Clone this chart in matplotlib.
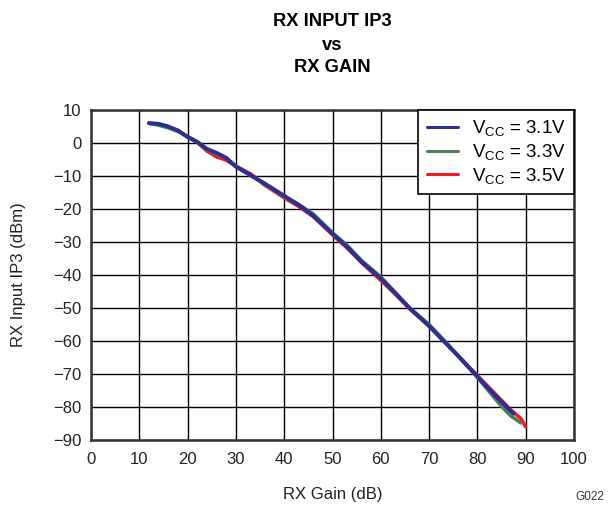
import matplotlib
matplotlib.use("Agg")
import matplotlib.pyplot as plt

plt.rcParams['font.family'] = ['Liberation Sans', 'DejaVu Sans']
plt.rcParams['mathtext.fontset'] = 'custom'
plt.rcParams['mathtext.rm'] = 'Liberation Sans'
plt.rcParams['mathtext.it'] = 'Liberation Sans:italic'
plt.rcParams['mathtext.bf'] = 'Liberation Sans:bold'

# Data
gain_31 = [12, 14, 16, 18, 20, 22, 24, 26, 28, 30, 33, 36, 40, 43, 46, 50, 53, 56, 60, 63, 66, 70, 74, 77, 80, 83, 85, 87.5]
ip3_31 = [6.0, 5.8, 5.0, 3.8, 1.8, 0.3, -1.8, -3.0, -4.5, -7.2, -9.7, -12.3, -16.0, -18.8, -22.0, -27.5, -31.4, -36.0, -41.0, -45.5, -50.1, -55.5, -61.5, -66.0, -70.8, -75.5, -78.5, -82.0]

gain_33 = [12, 14, 16, 18, 20, 22, 24, 26, 28, 30, 33, 36, 40, 43, 46, 50, 53, 56, 60, 63, 66, 70, 74, 77, 80, 83, 85, 87, 89]
ip3_33 = [6.0, 5.4, 4.6, 3.5, 2.0, 0.4, -1.9, -3.3, -4.6, -7.0, -9.8, -12.5, -16.2, -18.6, -21.5, -27.2, -31.0, -35.6, -40.6, -45.3, -50.0, -55.0, -61.2, -66.2, -71.0, -76.3, -79.8, -82.8, -84.8]

gain_35 = [12, 14, 16, 18, 20, 22, 24, 26, 28, 30, 33, 36, 40, 43, 46, 50, 53, 56, 60, 63, 66, 70, 74, 77, 80, 83, 85, 87, 89, 90]
ip3_35 = [6.0, 5.7, 4.9, 3.7, 1.9, 0.2, -2.4, -4.2, -5.2, -7.0, -9.3, -12.8, -16.6, -19.2, -22.3, -27.8, -31.8, -36.2, -41.6, -45.8, -50.3, -55.4, -61.4, -66.0, -70.5, -75.0, -78.0, -81.0, -83.5, -86.0]

series_labels = [r'V$_{\mathrm{CC}}$ = 3.1V', r'V$_{\mathrm{CC}}$ = 3.3V', r'V$_{\mathrm{CC}}$ = 3.5V']
x_ticks = [0, 10, 20, 30, 40, 50, 60, 70, 80, 90, 100]
y_ticks = [10, 0, -10, -20, -30, -40, -50, -60, -70, -80, -90]

fig = plt.figure(figsize=(6.08, 5.05), dpi=100)
ax = fig.add_axes([91/608, 1 - 440/505, 483/608, 330/505])

c_blue = '#2b2f8f'
c_green = '#4c7f5c'
c_red = '#ee1c25'

l_red, = ax.plot(gain_35, ip3_35, color=c_red, lw=2.6, solid_capstyle='round', zorder=3)
l_green, = ax.plot(gain_33, ip3_33, color=c_green, lw=2.6, solid_capstyle='round', zorder=4)
l_blue, = ax.plot(gain_31, ip3_31, color=c_blue, lw=2.8, solid_capstyle='round', zorder=5)

ax.set_xlim(0, 100)
ax.set_ylim(-90, 10)
ax.set_xticks(x_ticks)
ax.set_yticks(y_ticks)
ax.grid(True, color='black', lw=1.0)
ax.set_axisbelow(True)
ax.tick_params(length=0, labelsize=12, colors='#222222')
ax.tick_params(axis='x', pad=9)
ax.tick_params(axis='y', pad=7)
for s in ax.spines.values():
    s.set_linewidth(1.8)
    s.set_color('#333333')

ax.set_xlabel('RX Gain (dB)', fontsize=12, color='#222222')
ax.set_ylabel('RX Input IP3 (dBm)', fontsize=12, color='#222222')
ax.xaxis.set_label_coords(0.5, (440 - 494) / 330)
ax.yaxis.set_label_coords((19 - 91) / 483, 0.5)
ax.xaxis.label.set_va('center')
ax.yaxis.label.set_va('center')

fig.text(332/608, 1 - 22/505, 'RX INPUT IP3', ha='center', va='center', fontsize=13.2, fontweight='bold')
fig.text(332/608, 1 - 45/505, 'vs', ha='center', va='center', fontsize=13.2, fontweight='bold')
fig.text(332/608, 1 - 67/505, 'RX GAIN', ha='center', va='center', fontsize=13.2, fontweight='bold')

fig.text(590/608, 1 - 497/505, 'G022', ha='center', va='center', fontsize=8.5, color='#333333')

leg = ax.legend([l_blue, l_green, l_red], series_labels,
                loc='upper right', bbox_to_anchor=(1.0, 1.0), borderaxespad=0,
                fontsize=13.5, fancybox=False, framealpha=1, edgecolor='black',
                handlelength=1.65, labelspacing=0.2, borderpad=0.45, handletextpad=0.75)
leg.get_frame().set_linewidth(1.2)
for h in leg.get_lines():
    h.set_linewidth(2.2)

fig.savefig('out.png', dpi=100)
